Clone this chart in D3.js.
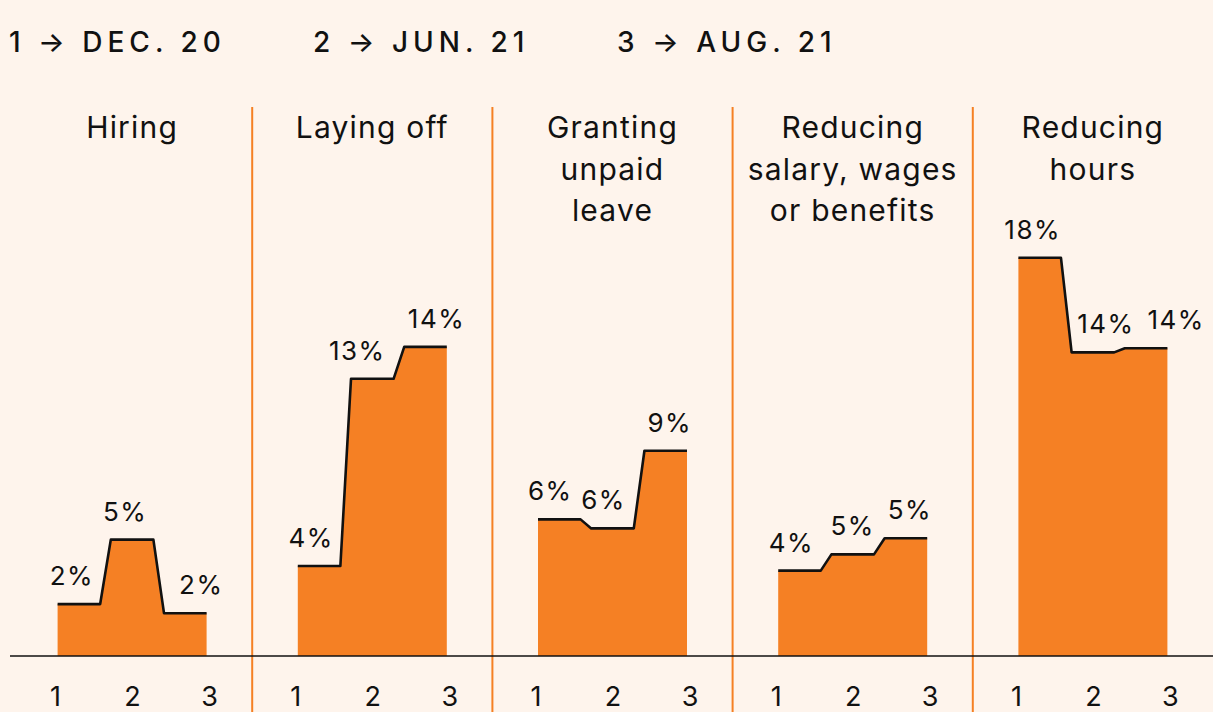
<!DOCTYPE html>
<html>
<head>
<meta charset="utf-8">
<script src="https://cdn.jsdelivr.net/npm/d3@7"></script>
<style>
  html, body { margin: 0; padding: 0; background: #fef4ec; }
  svg { display: block; }
  text { font-family: Inter, "Open Sans", sans-serif; fill: #111; }
</style>
</head>
<body>
<div class="vis"></div>
<script>
// chart data
const categories = ["Hiring", "Laying off", "Granting unpaid leave", "Reducing salary, wages or benefits", "Reducing hours"];
const titleLines = [["Hiring"], ["Laying off"], ["Granting", "unpaid", "leave"], ["Reducing", "salary, wages", "or benefits"], ["Reducing", "hours"]];
const periods = ["1", "2", "3"];
const periodLabels = ["1 \u2192 DEC. 20", "2 \u2192 JUN. 21", "3 \u2192 AUG. 21"];
const hiring = [2.36, 5.29, 1.94];
const layingOff = [4.09, 12.6, 14.05];
const unpaidLeave = [6.21, 5.8, 9.33];
const reducingPay = [3.88, 4.62, 5.35];
const reducingHours = [18.1, 13.8, 13.99];
const series = [hiring, layingOff, unpaidLeave, reducingPay, reducingHours];

// label nudges so numbers don't sit on the steps
const labelDx = [[-7, -7, 16], [-8, -15, 11], [-9, -9, 4], [-8, 0, 4], [-7, 13, 30]];

const W = 1213, H = 712;
const orange = "#f58024";

const svg = d3.select(".vis").append("svg").attr("width", W).attr("height", H);

// legend
svg.selectAll("text.legend")
    .data(periodLabels)
    .enter().append("text")
    .attr("class", "legend")
    .attr("x", (d, i) => 9 + i * 304)
    .attr("y", 52)
    .style("font-size", "28px")
    .style("font-weight", 500)
    .style("letter-spacing", "5px")
    .text(d => d);

const xPanel = d3.scaleBand().domain(d3.range(categories.length)).range([12, W]);
const y = d3.scaleLinear().domain([0, 20]).range([656, 216]);
const xStep = d3.scaleBand().domain(periods).range([-74.5, 74.5]).paddingInner(0.2);
const xTick = d3.scalePoint().domain(periods).range([-77, 77]);

// divider lines
svg.selectAll("line.div")
    .data(d3.range(1, categories.length))
    .enter().append("line")
    .attr("x1", d => xPanel(d)).attr("x2", d => xPanel(d))
    .attr("y1", 107).attr("y2", H)
    .style("stroke", orange).style("stroke-width", 2);

const stepPoints = vals => vals.flatMap((v, i) => [
    [xStep(periods[i]), v],
    [xStep(periods[i]) + xStep.bandwidth(), v]
]);

const area = d3.area().x(d => d[0]).y0(y(0)).y1(d => y(d[1]));
const line = d3.line().x(d => d[0]).y(d => y(d[1]));

categories.forEach((cat, c) => {
    const cx = xPanel(c) + xPanel.bandwidth() / 2;
    const g = svg.append("g").attr("transform", `translate(${cx}, 0)`);

    g.selectAll("text.title")
        .data(titleLines[c])
        .enter().append("text")
        .attr("class", "title")
        .attr("x", 0)
        .attr("y", (d, i) => 138 + i * 41.5)
        .attr("text-anchor", "middle")
        .style("font-size", "30px")
        .style("letter-spacing", "1.2px")
        .text(d => d);

    const pts = stepPoints(series[c]);
    g.append("path").datum(pts).attr("d", area).style("fill", orange);
    g.append("path").datum(pts).attr("d", line)
        .style("fill", "none").style("stroke", "#111").style("stroke-width", 2.6)
        .style("stroke-linejoin", "round");

    g.selectAll("text.val")
        .data(series[c])
        .enter().append("text")
        .attr("class", "val")
        .attr("x", (d, i) => xStep(periods[i]) + xStep.bandwidth() / 2 + labelDx[c][i])
        .attr("y", d => y(d) - 19)
        .attr("text-anchor", "middle")
        .style("font-size", "26px")
        .style("letter-spacing", "1.5px")
        .text(d => Math.round(d) + "%");

    const ax = g.append("g").attr("transform", "translate(0, 680)")
        .call(d3.axisBottom(xTick).tickSize(0).tickPadding(0));
    ax.select(".domain").remove();
    ax.selectAll("text").style("font-size", "27px").style("font-family", "Inter, sans-serif").attr("fill", "#111").attr("dy", "0").attr("y", 26);
});

// baseline
svg.append("line")
    .attr("x1", 10).attr("x2", W)
    .attr("y1", y(0)).attr("y2", y(0))
    .style("stroke", "#111").style("stroke-width", 1.5);
</script>
</body>
</html>
